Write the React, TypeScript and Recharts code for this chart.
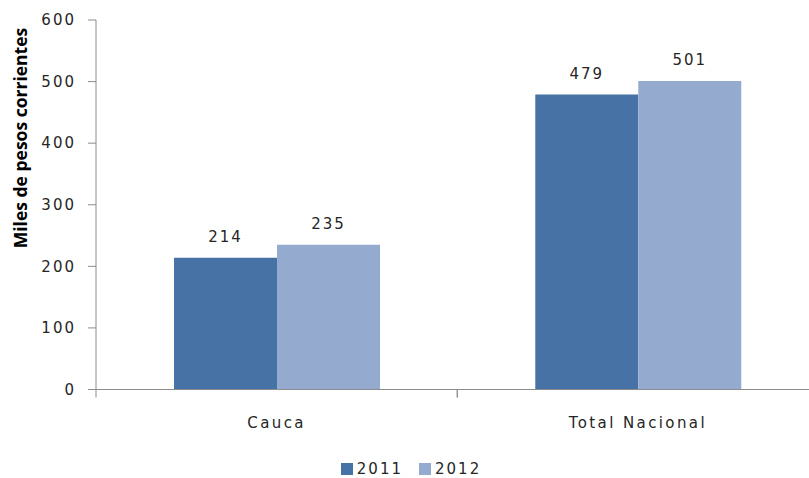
import React from 'react';
import { BarChart, Bar, XAxis, YAxis, Legend, LabelList } from 'recharts';

const categories = ['Cauca', 'Total Nacional'];
const values2011 = [214, 479];
const values2012 = [235, 501];
const seriesNames = ['2011', '2012'];
const seriesColors = ['#4672A5', '#95AACF'];
const yTicks = [0, 100, 200, 300, 400, 500, 600];
const yTitle = 'Miles de pesos corrientes';

const data = categories.map((c, i) => ({ name: c, s2011: values2011[i], s2012: values2012[i] }));

const FONT = '"DejaVu Sans", sans-serif';
const AXIS = '#8c8c8c';
const TXT = '#262626';

const CatTick = (props: any) => {
  const { x, y, payload, width, visibleTicksCount } = props;
  const half = width / (visibleTicksCount || categories.length) / 2;
  return (
    <g>
      <line x1={x - half} x2={x - half} y1={y} y2={y + 8} stroke={AXIS} />
      <line x1={x + half} x2={x + half} y1={y} y2={y + 8} stroke={AXIS} />
      <text x={x} y={y + 38} textAnchor="middle" fontFamily={FONT} fontSize={15} letterSpacing={2.4} fill={TXT}>
        {payload.value}
      </text>
    </g>
  );
};

const ValueLabel = (props: any) => {
  const { x, y, width, value } = props;
  return (
    <text x={x + width / 2} y={y - 16} textAnchor="middle" fontFamily={FONT} fontSize={15} letterSpacing={2} fill={TXT}>
      {value}
    </text>
  );
};

const LegendContent = () => (
  <div style={{ display: 'flex', justifyContent: 'center', alignItems: 'center', fontFamily: FONT, fontSize: 15, letterSpacing: 2, color: TXT }}>
    {seriesNames.map((n, i) => (
      <div key={n} style={{ display: 'flex', alignItems: 'center', marginRight: i === 0 ? 16 : 0 }}>
        <div style={{ width: 12, height: 12, background: seriesColors[i], marginRight: 4 }} />
        <span>{n}</span>
      </div>
    ))}
  </div>
);

const YTitle = () => (
  <text
    x={27}
    y={138}
    transform="rotate(-90 27 138)"
    textAnchor="middle"
    fontFamily='"Open Sans", sans-serif'
    fontWeight="bold"
    fontSize={17.5}
    fill="#000"
  >
    {yTitle}
  </text>
);

export default function App() {
  return (
    <div style={{ position: 'absolute', left: 0, top: 0, width: 809, height: 478, overflow: 'hidden', background: '#fff' }}>
      <BarChart
        width={830}
        height={478}
        data={data}
        margin={{ top: 20, right: 11.5, left: 0, bottom: 48.5 }}
        barCategoryGap="21.6%"
        barGap={0}
      >
        <XAxis
          dataKey="name"
          height={40}
          axisLine={{ stroke: AXIS }}
          tickLine={false}
          tickSize={0}
          tickMargin={0}
          tick={<CatTick />}
          interval={0}
        />
        <YAxis
          width={96}
          domain={[0, 600]}
          ticks={yTicks}
          allowDataOverflow
          axisLine={{ stroke: AXIS }}
          tickLine={{ stroke: AXIS }}
          tickSize={8}
          tickMargin={12}
          tick={{ fontFamily: FONT, fontSize: 15, letterSpacing: 2, fill: TXT }}
          label={<YTitle />}
        />
        <Legend
          layout="horizontal"
          verticalAlign="middle"
          align="center"
          content={<LegendContent />}
          wrapperStyle={{ position: 'absolute', top: 460, left: 311, width: 200, height: 20 }}
        />
        <Bar dataKey="s2011" name={seriesNames[0]} fill={seriesColors[0]} isAnimationActive={false}>
          <LabelList dataKey="s2011" content={<ValueLabel />} />
        </Bar>
        <Bar dataKey="s2012" name={seriesNames[1]} fill={seriesColors[1]} isAnimationActive={false}>
          <LabelList dataKey="s2012" content={<ValueLabel />} />
        </Bar>
      </BarChart>
    </div>
  );
}
